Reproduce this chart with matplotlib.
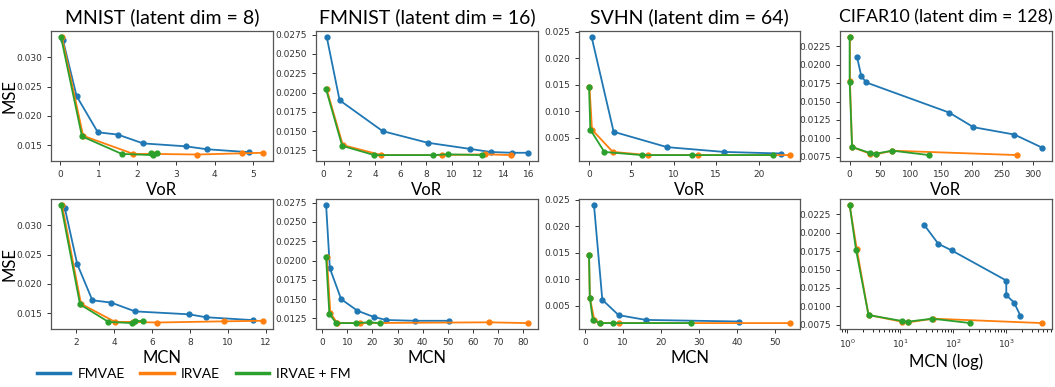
import matplotlib
matplotlib.use('Agg')
import matplotlib.pyplot as plt
from matplotlib.lines import Line2D
from matplotlib.ticker import FormatStrFormatter, MultipleLocator

# ---- data ----
titles = ['MNIST (latent dim = 8)', 'FMNIST (latent dim = 16)',
          'SVHN (latent dim = 64)', 'CIFAR10 (latent dim = 128)']
methods = ['FMVAE', 'IRVAE', 'IRVAE + FM']
colors = ['#1f77b4', '#ff7f0e', '#2ca02c']

# MNIST
mnist_mse_fm = [0.0329, 0.0234, 0.0172, 0.0168, 0.0153, 0.0148, 0.0143, 0.0138]
mnist_vor_fm = [0.08, 0.43, 0.98, 1.50, 2.15, 3.25, 3.80, 4.88]
mnist_mcn_fm = [1.40, 2.05, 2.85, 3.85, 5.10, 7.95, 8.85, 11.35]
mnist_mse_ir = [0.0335, 0.0166, 0.0135, 0.0135, 0.0134, 0.0136, 0.0137]
mnist_vor_ir = [0.05, 0.60, 1.90, 2.40, 3.55, 4.70, 5.25]
mnist_mcn_ir = [1.25, 2.25, 4.05, 5.00, 6.25, 9.80, 11.85]
mnist_mse_irfm = [0.0334, 0.0165, 0.0135, 0.0133, 0.0136, 0.0137]
mnist_vor_irfm = [0.03, 0.57, 1.60, 2.40, 2.35, 2.50]
mnist_mcn_irfm = [1.20, 2.20, 3.70, 4.95, 5.10, 5.50]

# FMNIST
fmnist_mse_fm = [0.0272, 0.0190, 0.0150, 0.0135, 0.0127, 0.0123, 0.0122, 0.0122]
fmnist_vor_fm = [0.25, 1.25, 4.60, 8.10, 11.40, 13.00, 14.70, 15.90]
fmnist_mcn_fm = [1.5, 3.0, 7.5, 14.0, 20.5, 25.5, 37.0, 50.5]
fmnist_mse_ir = [0.0204, 0.0132, 0.0119, 0.0119, 0.0120, 0.0119]
fmnist_vor_ir = [0.25, 1.50, 4.50, 9.20, 12.60, 14.60]
fmnist_mcn_ir = [1.8, 3.2, 6.0, 15.0, 66.5, 82.0]
fmnist_mse_irfm = [0.0204, 0.0131, 0.0119, 0.0119, 0.0120, 0.0119]
fmnist_vor_irfm = [0.20, 1.45, 3.95, 8.50, 9.65, 12.30]
fmnist_mcn_irfm = [1.5, 2.8, 5.5, 13.5, 18.5, 23.0]

# SVHN
svhn_mse_fm = [0.0240, 0.0061, 0.0032, 0.0023, 0.0020]
svhn_vor_fm = [0.3, 2.9, 9.2, 15.9, 22.6]
svhn_mcn_fm = [2.3, 4.5, 8.8, 16.0, 40.5]
svhn_mse_ir = [0.0146, 0.0065, 0.0023, 0.0017, 0.0017, 0.0017]
svhn_vor_ir = [0.05, 0.35, 2.8, 7.0, 12.8, 23.7]
svhn_mcn_ir = [1.0, 1.2, 2.4, 4.0, 9.0, 54.0]
svhn_mse_irfm = [0.0146, 0.0065, 0.0023, 0.0017, 0.0017, 0.0017]
svhn_vor_irfm = [0.0, 0.15, 1.8, 6.2, 12.2, 21.7]
svhn_mcn_irfm = [1.0, 1.2, 2.0, 3.8, 7.2, 28.0]

# CIFAR10
cifar_mse_fm = [0.0211, 0.0185, 0.0176, 0.0135, 0.0115, 0.0105, 0.0087]
cifar_vor_fm = [12, 19, 27, 163, 203, 270, 316]
cifar_mcn_fm = [28, 52, 93, 1000, 1000, 1400, 1850]
cifar_mse_ir = [0.0238, 0.0178, 0.0088, 0.0079, 0.0078, 0.0083, 0.0077]
cifar_vor_ir = [0.5, 0.5, 4, 33, 43, 70, 275]
cifar_mcn_ir = [1.1, 1.5, 2.5, 10.5, 14, 42, 4800]
cifar_mse_irfm = [0.0238, 0.0177, 0.0088, 0.0080, 0.0079, 0.0083, 0.0077]
cifar_vor_irfm = [0.0, 0.0, 4, 33, 43, 70, 130]
cifar_mcn_irfm = [1.1, 1.45, 2.5, 10.5, 14, 40, 210]

datasets = [
    ((mnist_vor_fm, mnist_mcn_fm, mnist_mse_fm),
     (mnist_vor_ir, mnist_mcn_ir, mnist_mse_ir),
     (mnist_vor_irfm, mnist_mcn_irfm, mnist_mse_irfm)),
    ((fmnist_vor_fm, fmnist_mcn_fm, fmnist_mse_fm),
     (fmnist_vor_ir, fmnist_mcn_ir, fmnist_mse_ir),
     (fmnist_vor_irfm, fmnist_mcn_irfm, fmnist_mse_irfm)),
    ((svhn_vor_fm, svhn_mcn_fm, svhn_mse_fm),
     (svhn_vor_ir, svhn_mcn_ir, svhn_mse_ir),
     (svhn_vor_irfm, svhn_mcn_irfm, svhn_mse_irfm)),
    ((cifar_vor_fm, cifar_mcn_fm, cifar_mse_fm),
     (cifar_vor_ir, cifar_mcn_ir, cifar_mse_ir),
     (cifar_vor_irfm, cifar_mcn_irfm, cifar_mse_irfm)),
]

W, H = 1055, 387
fig = plt.figure(figsize=(W / 100, H / 100), dpi=100)

lefts = [51, 316, 579, 840]
widths = [222, 222, 221, 212]
tops = [31, 199]
ax_h = 130
label_font = 'Lato'
title_sizes = [14, 14, 14, 12.8]
yfmt = ['%.3f', '%.4f', '%.3f', '%.4f']
ystep = [0.005, 0.0025, 0.005, 0.0025]
xstep = [[1, 2], [2, 10], [5, 10], [50, None]]

for col in range(4):
    for row in range(2):
        ax = fig.add_axes([lefts[col] / W, 1 - (tops[row] + ax_h) / H,
                           widths[col] / W, ax_h / H])
        for k, (vor, mcn, mse) in enumerate(datasets[col]):
            x = vor if row == 0 else mcn
            ax.plot(x, mse, '-o', color=colors[k], lw=1.3, ms=3.5)
        if col == 3 and row == 1:
            ax.set_xscale('log')
        else:
            ax.xaxis.set_major_locator(MultipleLocator(xstep[col][row]))
        ax.yaxis.set_major_locator(MultipleLocator(ystep[col]))
        ax.yaxis.set_major_formatter(FormatStrFormatter(yfmt[col]))
        ax.tick_params(labelsize=6.5, length=3, width=0.7, colors='#333333')
        for s in ax.spines.values():
            s.set_color('#555555')
            s.set_linewidth(0.9)
        if row == 0:
            ax.set_title(titles[col], fontsize=title_sizes[col],
                         family=label_font, pad=6)
            ax.set_xlabel('VoR', fontsize=12, family=label_font, labelpad=2)
        else:
            ax.set_xlabel('MCN (log)' if col == 3 else 'MCN', fontsize=12,
                          family=label_font, labelpad=2)
        if col == 0:
            ax.set_ylabel('MSE', fontsize=12, family=label_font)
            ax.yaxis.set_label_coords(-33 / widths[0], 0.5)

handles = [Line2D([], [], color=c, lw=2.5) for c in colors]
fig.legend(handles=handles, labels=methods, loc='center left',
           bbox_to_anchor=(0.023, 0.034), ncol=3, frameon=False,
           prop={'family': label_font, 'size': 10},
           handlelength=2.4, handletextpad=0.55, columnspacing=1.1)

fig.savefig('out.png', dpi=100)
